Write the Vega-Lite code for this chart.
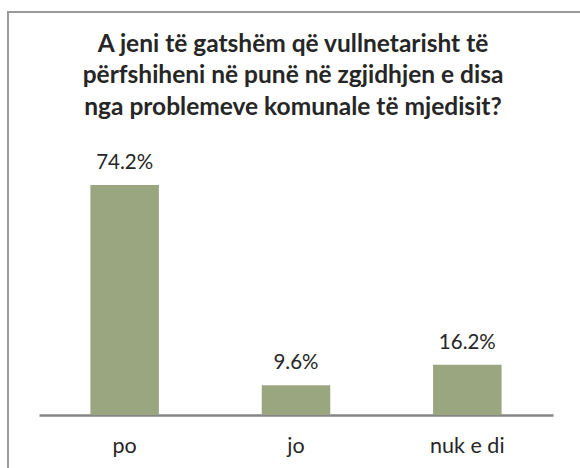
{
  "$schema": "https://vega.github.io/schema/vega-lite/v6.json",
  "width": 600,
  "height": 470,
  "autosize": {"type": "none"},
  "padding": {"left": 8, "top": 12, "right": 0, "bottom": 0},
  "background": "white",
  "config": {
    "view": {"stroke": "#9a9a9a", "strokeWidth": 2},
    "font": "Lato"
  },
  "title": {
    "text": ["A jeni të gatshëm që vullnetarisht të", "përfshiheni në punë në zgjidhjen e disa", "nga problemeve komunale të mjedisit?"],
    "anchor": "start",
    "frame": "group",
    "dx": 285,
    "align": "center",
    "baseline": "top",
    "offset": -108,
    "fontSize": 24.5,
    "fontWeight": "bold",
    "font": "Lato",
    "color": "#262626",
    "lineHeight": 31.5
  },
  "data": {
    "values": [
      {"answer": "po", "pct": 74.2, "label": "74.2%"},
      {"answer": "jo", "pct": 9.6, "label": "9.6%"},
      {"answer": "nuk e di", "pct": 16.2, "label": "16.2%"}
    ]
  },
  "encoding": {
    "x": {
      "field": "answer",
      "type": "nominal",
      "sort": null,
      "scale": {"range": [31, 545], "paddingInner": 0.6, "paddingOuter": 0.3},
      "axis": {
        "title": null,
        "offset": -67,
        "domainColor": "#868686",
        "domainWidth": 2.5,
        "ticks": false,
        "labelAngle": 0,
        "labelFontSize": 21.5,
        "labelColor": "#262626",
        "labelFont": "Lato",
        "labelPadding": 20
      }
    },
    "y": {
      "field": "pct",
      "type": "quantitative",
      "scale": {"domain": [0, 80], "range": [403, 155]},
      "axis": null
    }
  },
  "layer": [
    {"mark": {"type": "bar", "color": "#9aa67f"}},
    {
      "mark": {"type": "text", "baseline": "alphabetic", "dy": -16, "fontSize": 20.5, "color": "#262626", "font": "Lato"},
      "encoding": {"text": {"field": "label"}}
    }
  ]
}
